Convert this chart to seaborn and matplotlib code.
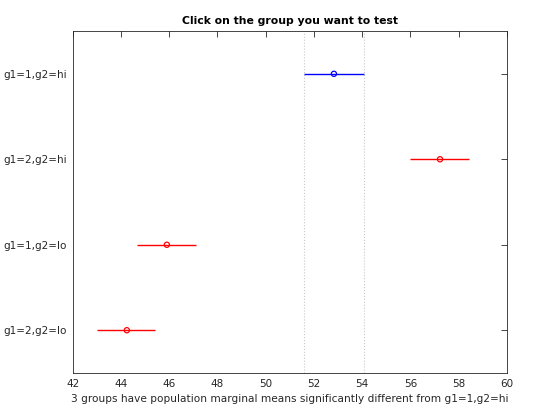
import matplotlib
matplotlib.use('Agg')
import matplotlib.pyplot as plt
import seaborn as sns
import pandas as pd

groups = ['g1=1,g2=hi', 'g1=2,g2=hi', 'g1=1,g2=lo', 'g1=2,g2=lo']
means = [52.83, 57.23, 45.90, 44.24]
lower = [51.58, 55.98, 44.66, 43.00]
upper = [54.07, 58.43, 47.10, 45.40]
status = ['selected', 'different', 'different', 'different']

df = pd.DataFrame({'group': groups, 'mean': means, 'lo': lower, 'hi': upper, 'status': status})
df['pos'] = range(len(groups))

sns.set_style('white')
plt.rcParams['font.family'] = ['DejaVu Sans']

fig = plt.figure(figsize=(5.6, 4.2), dpi=100)
ax = fig.add_axes([0.130, 0.112, 0.775, 0.814])

palette = {'selected': '#0000ff', 'different': '#ff0000'}

# comparison interval around selected group
sel = df[df['status'] == 'selected'].iloc[0]
for x in (sel['lo'], sel['hi']):
    ax.axvline(x, color='#c8c8c8', linestyle=':', linewidth=0.8, zorder=0)

for _, r in df.iterrows():
    ax.hlines(r['pos'], r['lo'], r['hi'], color=palette[r['status']], linewidth=1, zorder=2)

sns.scatterplot(data=df, x='mean', y='pos', hue='status', palette=palette,
                marker='o', s=14, legend=False, ax=ax, zorder=3, linewidth=0.9)
# open markers
for coll in ax.collections:
    fc = coll.get_facecolors()
    if len(fc):
        coll.set_edgecolors(fc)
        coll.set_facecolors('none')

ax.set_xlim(42, 60)
ax.set_ylim(3.5, -0.5)
ax.set_xticks(range(42, 61, 2))
ax.set_yticks(df['pos'])
ax.set_yticklabels(groups)
ax.set_ylabel('')
ax.set_xlabel('3 groups have population marginal means significantly different from g1=1,g2=hi',
              fontsize=7.6, color='#262626', labelpad=4)
ax.set_title('Click on the group you want to test', fontsize=7.8, fontweight='bold',
             color='black', pad=5)

ax.tick_params(axis='both', which='both', direction='in', length=4, width=0.6,
               top=True, right=True, labelsize=7.5, labelcolor='#262626', color='#262626', pad=4)
for sp in ax.spines.values():
    sp.set_color('#262626')
    sp.set_linewidth(0.6)

fig.savefig('out.png', dpi=100)
